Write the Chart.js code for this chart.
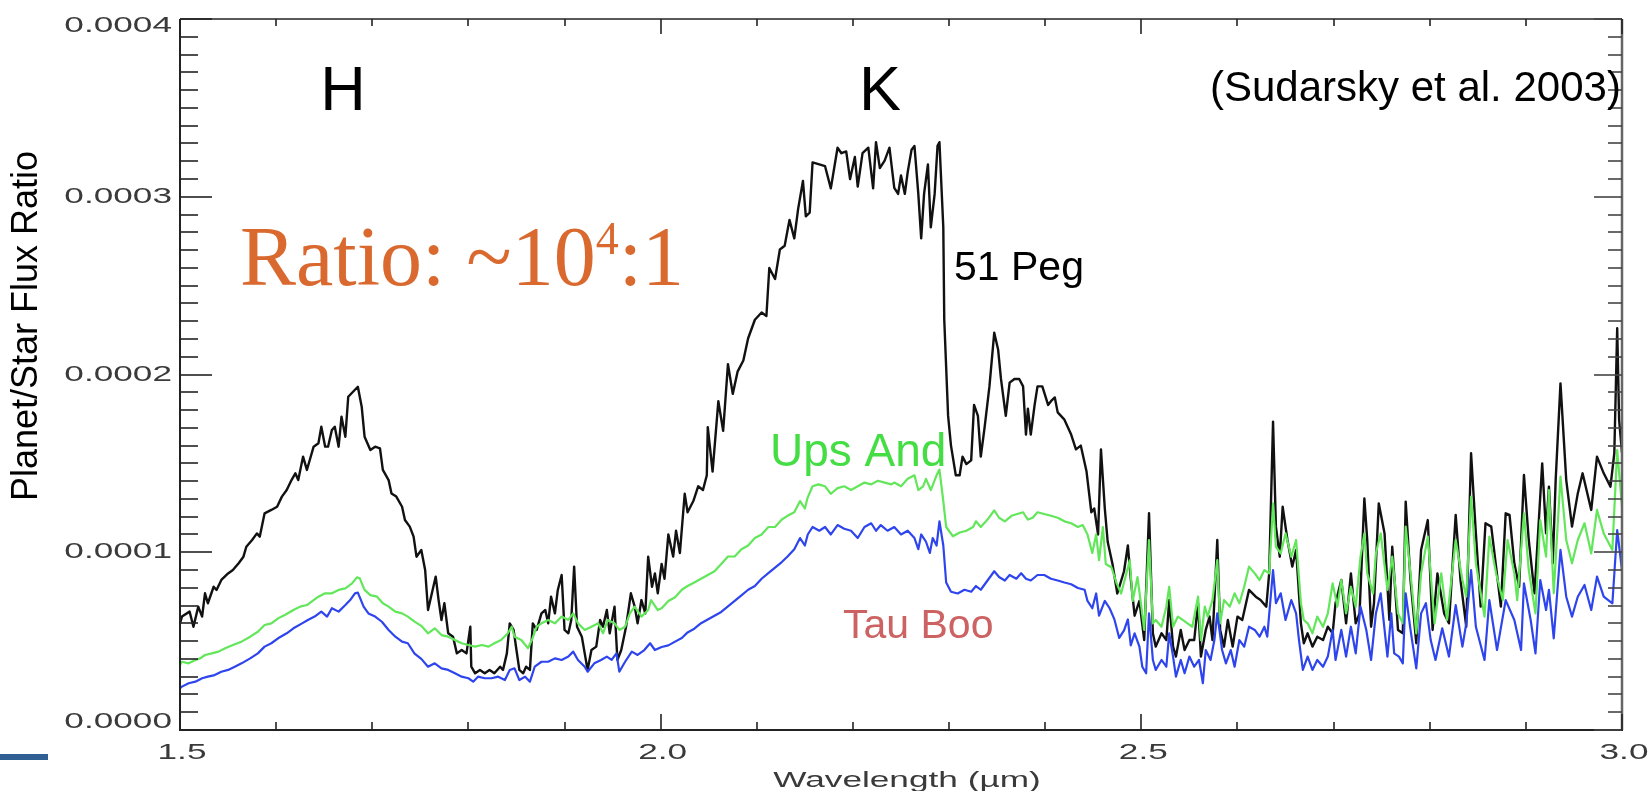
<!DOCTYPE html>
<html>
<head>
<meta charset="utf-8">
<script src="https://cdn.jsdelivr.net/npm/chart.js@4.4.0/dist/chart.umd.min.js"></script>
<style>
  html, body { margin: 0; padding: 0; background: #fff; }
  #wrap { width: 1650px; height: 791px; position: relative; }
</style>
</head>
<body>
<div id="wrap"><canvas id="spectra" width="1650" height="791"></canvas></div>
<script>
// wavelength in micron, planet/star flux ratio in units of 1e-5
const pegWave = [
  1.500, 1.502, 1.510, 1.514, 1.519, 1.523, 1.526, 1.529, 1.535, 1.538,
  1.543, 1.550, 1.555, 1.561, 1.566, 1.569, 1.575, 1.580, 1.583, 1.588,
  1.595, 1.601, 1.606, 1.611, 1.616, 1.620, 1.623, 1.628, 1.632, 1.635,
  1.639, 1.644, 1.647, 1.651, 1.654, 1.658, 1.661, 1.665, 1.668, 1.672,
  1.675, 1.680, 1.685, 1.689, 1.692, 1.698, 1.703, 1.708, 1.711, 1.717,
  1.720, 1.725, 1.731, 1.734, 1.739, 1.743, 1.746, 1.751, 1.755, 1.758,
  1.762, 1.766, 1.769, 1.772, 1.775, 1.779, 1.784, 1.788, 1.793, 1.798,
  1.802, 1.803, 1.807, 1.812, 1.817, 1.822, 1.827, 1.833, 1.836, 1.840,
  1.843, 1.847, 1.850, 1.853, 1.857, 1.860, 1.864, 1.867, 1.871, 1.876,
  1.880, 1.883, 1.886, 1.890, 1.893, 1.897, 1.900, 1.904, 1.907, 1.910,
  1.913, 1.918, 1.921, 1.924, 1.928, 1.933, 1.937, 1.940, 1.944, 1.947,
  1.952, 1.955, 1.959, 1.964, 1.969, 1.973, 1.976, 1.980, 1.984, 1.987,
  1.991, 1.994, 1.997, 2.001, 2.004, 2.008, 2.013, 2.016, 2.020, 2.025,
  2.028, 2.034, 2.039, 2.044, 2.048, 2.049, 2.054, 2.060, 2.065, 2.070,
  2.075, 2.080, 2.086, 2.091, 2.098, 2.105, 2.110, 2.113, 2.119, 2.124,
  2.129, 2.134, 2.139, 2.143, 2.148, 2.151, 2.155, 2.158, 2.165, 2.171,
  2.177, 2.184, 2.188, 2.193, 2.197, 2.202, 2.205, 2.210, 2.216, 2.221,
  2.224, 2.228, 2.233, 2.238, 2.243, 2.247, 2.250, 2.254, 2.257, 2.261,
  2.264, 2.268, 2.271, 2.274, 2.278, 2.281, 2.285, 2.288, 2.290, 2.294,
  2.295, 2.299, 2.302, 2.307, 2.311, 2.314, 2.318, 2.323, 2.326, 2.330,
  2.333, 2.337, 2.342, 2.347, 2.351, 2.354, 2.359, 2.363, 2.368, 2.373,
  2.377, 2.380, 2.382, 2.385, 2.389, 2.392, 2.397, 2.403, 2.406, 2.410,
  2.413, 2.420, 2.427, 2.432, 2.437, 2.443, 2.448, 2.451, 2.455, 2.458,
  2.462, 2.465, 2.470, 2.475, 2.482, 2.486, 2.489, 2.493, 2.498, 2.503,
  2.508, 2.512, 2.515, 2.521, 2.526, 2.529, 2.533, 2.536, 2.541, 2.545,
  2.550, 2.555, 2.559, 2.562, 2.567, 2.571, 2.574, 2.579, 2.582, 2.586,
  2.590, 2.595, 2.600, 2.605, 2.612, 2.619, 2.624, 2.630, 2.633, 2.637,
  2.640, 2.644, 2.647, 2.652, 2.657, 2.661, 2.666, 2.669, 2.673, 2.678,
  2.683, 2.689, 2.694, 2.699, 2.702, 2.708, 2.713, 2.718, 2.723, 2.727,
  2.732, 2.735, 2.739, 2.742, 2.747, 2.753, 2.758, 2.761, 2.767, 2.772,
  2.775, 2.780, 2.786, 2.791, 2.798, 2.803, 2.808, 2.815, 2.820, 2.827,
  2.832, 2.838, 2.843, 2.848, 2.853, 2.858, 2.864, 2.869, 2.874, 2.879,
  2.883, 2.888, 2.893, 2.898, 2.903, 2.909, 2.917, 2.921, 2.924, 2.928,
  2.931, 2.936, 2.942, 2.948, 2.954, 2.959, 2.968, 2.974, 2.981, 2.988,
  2.992, 2.995, 2.997, 3.000
];
const pegFlux = [
  6.00, 6.38, 6.66, 5.81, 6.94, 6.38, 7.69, 7.13, 8.06, 7.88,
  8.44, 8.81, 9.00, 9.38, 9.75, 10.31, 10.69, 11.06, 10.88, 12.19,
  12.38, 12.56, 13.13, 13.50, 14.06, 14.44, 14.06, 15.38, 14.63, 15.19,
  15.94, 16.13, 17.06, 15.94, 15.94, 16.88, 17.06, 15.94, 17.63, 16.50,
  18.75, 19.03, 19.31, 18.19, 16.50, 15.75, 15.94, 15.85, 14.63, 14.06,
  13.31, 13.13, 12.56, 11.81, 11.44, 10.88, 9.75, 10.13, 9.00, 6.75,
  7.69, 8.63, 7.31, 6.19, 7.13, 5.44, 5.25, 4.31, 4.50, 4.31,
  5.81, 3.56, 3.19, 3.38, 3.19, 3.38, 3.19, 3.56, 3.38, 4.31,
  6.00, 5.63, 4.50, 3.38, 3.19, 3.56, 3.38, 6.00, 5.63, 6.56,
  6.75, 6.00, 7.50, 6.56, 7.88, 8.72, 5.63, 5.44, 6.19, 9.19,
  5.81, 5.25, 4.31, 3.38, 4.50, 4.69, 6.19, 5.81, 6.75, 5.44,
  6.94, 3.94, 4.50, 5.81, 7.69, 6.94, 6.00, 7.31, 6.56, 9.75,
  8.06, 8.81, 7.69, 9.34, 8.51, 11.00, 9.76, 11.21, 9.96, 13.29,
  12.25, 12.88, 13.71, 13.50, 14.33, 17.04, 14.54, 18.50, 16.83, 20.58,
  18.91, 20.16, 20.79, 22.04, 23.08, 23.49, 23.29, 25.99, 25.37, 27.03,
  27.24, 28.70, 27.66, 29.32, 30.89, 28.90, 29.11, 31.93, 31.82, 31.72,
  30.47, 32.76, 32.45, 32.55, 30.99, 32.24, 30.57, 32.45, 32.76, 30.47,
  33.07, 31.61, 32.03, 32.76, 30.50, 30.16, 31.20, 30.16, 31.40, 32.65,
  32.86, 30.16, 27.66, 30.16, 31.82, 28.28, 30.16, 32.86, 33.07, 28.28,
  23.08, 17.67, 16.00, 14.33, 14.33, 15.38, 14.96, 15.17, 18.29, 17.67,
  15.38, 17.04, 19.33, 22.35, 21.41, 19.75, 17.67, 19.54, 19.75, 19.75,
  19.33, 16.62, 18.08, 16.62, 18.29, 19.33, 19.33, 18.29, 18.50, 18.71,
  17.87, 17.46, 16.62, 15.79, 16.00, 14.54, 12.25, 12.46, 11.00, 15.79,
  12.46, 10.59, 9.34, 7.68, 8.93, 10.38, 8.51, 6.43, 7.26, 5.06,
  12.19, 5.44, 4.69, 5.44, 5.06, 7.31, 4.69, 4.13, 5.63, 4.50,
  5.06, 5.06, 7.13, 4.13, 5.63, 6.38, 5.06, 10.69, 5.63, 4.69,
  6.19, 4.69, 6.38, 6.19, 7.88, 7.50, 7.31, 6.94, 8.81, 17.35,
  11.44, 9.75, 12.56, 10.69, 9.19, 10.13, 6.00, 4.88, 5.44, 4.69,
  5.25, 5.06, 5.81, 5.44, 7.13, 8.44, 6.00, 8.81, 6.00, 6.56,
  13.03, 10.69, 5.81, 7.13, 12.75, 11.06, 6.19, 10.31, 5.63, 5.44,
  12.85, 8.44, 4.88, 10.13, 11.81, 5.63, 8.81, 6.56, 6.00, 12.10,
  8.44, 5.81, 15.57, 11.06, 6.94, 11.63, 11.44, 9.19, 6.94, 12.19,
  12.10, 9.38, 8.06, 14.35, 10.69, 7.69, 15.00, 11.06, 13.69, 9.38,
  14.06, 19.50, 14.06, 11.44, 13.31, 14.44, 12.38, 15.38, 14.44, 13.69,
  15.57, 22.60, 17.44, 15.60
];

const upsWave = [
  1.500, 1.502, 1.509, 1.516, 1.521, 1.526, 1.533, 1.540, 1.547, 1.555,
  1.564, 1.573, 1.581, 1.588, 1.595, 1.602, 1.609, 1.618, 1.625, 1.632,
  1.639, 1.644, 1.651, 1.658, 1.665, 1.672, 1.679, 1.684, 1.687, 1.692,
  1.698, 1.705, 1.711, 1.717, 1.724, 1.731, 1.737, 1.744, 1.751, 1.758,
  1.765, 1.772, 1.779, 1.786, 1.793, 1.800, 1.807, 1.814, 1.821, 1.827,
  1.834, 1.841, 1.845, 1.848, 1.855, 1.862, 1.866, 1.871, 1.876, 1.883,
  1.890, 1.897, 1.904, 1.909, 1.914, 1.921, 1.928, 1.935, 1.940, 1.945,
  1.952, 1.957, 1.963, 1.968, 1.973, 1.980, 1.987, 1.990, 1.997, 2.001,
  2.008, 2.015, 2.022, 2.028, 2.035, 2.042, 2.049, 2.056, 2.063, 2.070,
  2.077, 2.084, 2.091, 2.098, 2.105, 2.112, 2.119, 2.126, 2.132, 2.139,
  2.145, 2.150, 2.153, 2.158, 2.164, 2.171, 2.177, 2.184, 2.191, 2.198,
  2.205, 2.212, 2.219, 2.226, 2.233, 2.240, 2.243, 2.250, 2.257, 2.264,
  2.268, 2.273, 2.276, 2.281, 2.287, 2.290, 2.294, 2.297, 2.304, 2.311,
  2.318, 2.325, 2.328, 2.333, 2.340, 2.347, 2.352, 2.358, 2.365, 2.371,
  2.377, 2.382, 2.387, 2.392, 2.399, 2.406, 2.413, 2.420, 2.427, 2.434,
  2.439, 2.444, 2.449, 2.453, 2.456, 2.460, 2.463, 2.469, 2.474, 2.479,
  2.484, 2.488, 2.491, 2.496, 2.500, 2.503, 2.508, 2.512, 2.515, 2.521,
  2.526, 2.529, 2.533, 2.538, 2.543, 2.548, 2.553, 2.559, 2.562, 2.566,
  2.569, 2.574, 2.579, 2.582, 2.586, 2.592, 2.597, 2.602, 2.607, 2.612,
  2.618, 2.623, 2.628, 2.633, 2.637, 2.640, 2.645, 2.650, 2.656, 2.661,
  2.666, 2.669, 2.673, 2.678, 2.683, 2.689, 2.694, 2.699, 2.704, 2.708,
  2.713, 2.718, 2.723, 2.728, 2.732, 2.735, 2.741, 2.744, 2.749, 2.756,
  2.761, 2.767, 2.772, 2.775, 2.780, 2.786, 2.791, 2.798, 2.805, 2.812,
  2.818, 2.827, 2.834, 2.838, 2.843, 2.848, 2.857, 2.862, 2.869, 2.876,
  2.881, 2.888, 2.891, 2.898, 2.903, 2.910, 2.915, 2.921, 2.924, 2.929,
  2.936, 2.942, 2.948, 2.954, 2.961, 2.968, 2.974, 2.981, 2.990, 2.995,
  3.000
];
const upsFlux = [
  3.66, 3.84, 3.75, 3.94, 4.03, 4.22, 4.31, 4.41, 4.60, 4.78,
  4.97, 5.25, 5.53, 5.91, 6.00, 6.28, 6.47, 6.75, 6.94, 7.03,
  7.31, 7.50, 7.69, 7.69, 7.88, 7.97, 8.25, 8.59, 8.53, 7.88,
  7.59, 7.50, 7.13, 6.94, 6.66, 6.56, 6.38, 6.10, 5.86, 5.44,
  5.72, 5.34, 5.25, 5.06, 4.88, 4.78, 4.69, 4.78, 4.69, 4.88,
  5.06, 5.44, 5.81, 5.25, 5.06, 4.60, 5.06, 5.81, 6.00, 6.19,
  6.00, 6.38, 6.19, 6.56, 6.00, 5.63, 5.81, 6.00, 5.44, 6.19,
  6.00, 5.63, 5.81, 6.56, 6.94, 6.38, 6.75, 7.31, 6.75, 6.85,
  7.26, 7.47, 7.89, 8.10, 8.30, 8.51, 8.72, 8.93, 9.34, 9.76,
  9.76, 10.17, 10.38, 10.80, 11.00, 11.42, 11.42, 11.84, 12.05, 12.25,
  12.88, 12.46, 13.09, 13.71, 13.82, 13.71, 13.29, 13.61, 13.71, 13.50,
  13.71, 13.92, 13.82, 14.02, 13.92, 13.82, 13.92, 13.71, 14.13, 14.33,
  13.50, 13.71, 14.13, 13.50, 14.33, 14.65, 12.88, 11.42, 10.90, 11.11,
  11.21, 11.42, 11.74, 11.42, 11.84, 12.36, 11.94, 11.74, 12.05, 12.15,
  12.25, 11.84, 11.94, 12.25, 12.15, 12.05, 11.94, 11.74, 11.63, 11.42,
  11.53, 11.00, 9.96, 11.00, 9.55, 11.42, 9.34, 9.14, 8.30, 7.68,
  8.72, 9.55, 7.26, 8.60, 6.94, 5.63, 10.69, 6.00, 6.19, 5.81,
  6.94, 8.06, 5.81, 6.38, 6.19, 6.00, 5.81, 7.50, 5.06, 6.94,
  6.38, 7.31, 9.56, 6.00, 7.31, 6.94, 7.69, 7.13, 8.06, 9.19,
  8.81, 8.44, 9.00, 8.81, 12.75, 10.31, 9.94, 11.06, 9.75, 10.69,
  7.13, 6.19, 6.00, 5.44, 6.38, 5.81, 6.56, 8.25, 6.94, 8.44,
  6.56, 8.06, 6.94, 9.75, 11.06, 8.81, 7.69, 9.94, 11.06, 7.88,
  9.75, 6.56, 6.00, 11.44, 8.81, 5.44, 8.81, 10.88, 6.00, 8.81,
  6.19, 10.69, 8.44, 7.50, 13.13, 9.38, 6.38, 10.88, 8.81, 7.31,
  10.69, 8.81, 7.31, 12.19, 9.00, 6.56, 11.81, 9.75, 13.50, 7.69,
  14.25, 10.69, 9.38, 10.69, 11.63, 9.94, 12.38, 11.06, 10.13, 15.75,
  12.56
];

const tauWave = [
  1.500, 1.502, 1.509, 1.516, 1.523, 1.529, 1.536, 1.543, 1.550, 1.557,
  1.564, 1.573, 1.581, 1.588, 1.595, 1.602, 1.611, 1.618, 1.627, 1.633,
  1.640, 1.647, 1.653, 1.658, 1.665, 1.672, 1.677, 1.682, 1.685, 1.691,
  1.696, 1.703, 1.710, 1.717, 1.724, 1.731, 1.737, 1.744, 1.751, 1.758,
  1.765, 1.772, 1.779, 1.786, 1.793, 1.800, 1.805, 1.810, 1.817, 1.824,
  1.831, 1.838, 1.843, 1.848, 1.853, 1.859, 1.864, 1.869, 1.876, 1.883,
  1.890, 1.897, 1.904, 1.909, 1.914, 1.921, 1.924, 1.931, 1.938, 1.944,
  1.949, 1.954, 1.957, 1.963, 1.970, 1.976, 1.983, 1.989, 1.994, 2.001,
  2.008, 2.015, 2.022, 2.028, 2.035, 2.042, 2.049, 2.056, 2.063, 2.070,
  2.077, 2.084, 2.091, 2.098, 2.105, 2.112, 2.119, 2.126, 2.132, 2.139,
  2.145, 2.150, 2.153, 2.158, 2.165, 2.171, 2.177, 2.184, 2.191, 2.198,
  2.205, 2.212, 2.219, 2.224, 2.229, 2.236, 2.243, 2.250, 2.257, 2.264,
  2.268, 2.271, 2.276, 2.280, 2.283, 2.287, 2.290, 2.294, 2.297, 2.302,
  2.309, 2.316, 2.323, 2.328, 2.333, 2.340, 2.347, 2.352, 2.358, 2.363,
  2.370, 2.375, 2.380, 2.385, 2.392, 2.399, 2.406, 2.413, 2.420, 2.427,
  2.434, 2.441, 2.444, 2.449, 2.453, 2.456, 2.462, 2.467, 2.472, 2.477,
  2.482, 2.486, 2.489, 2.493, 2.498, 2.501, 2.505, 2.508, 2.512, 2.515,
  2.521, 2.526, 2.529, 2.533, 2.536, 2.541, 2.545, 2.550, 2.555, 2.560,
  2.564, 2.567, 2.572, 2.576, 2.579, 2.584, 2.588, 2.593, 2.597, 2.602,
  2.607, 2.612, 2.618, 2.623, 2.628, 2.631, 2.637, 2.640, 2.645, 2.650,
  2.656, 2.661, 2.664, 2.668, 2.673, 2.678, 2.683, 2.689, 2.694, 2.699,
  2.702, 2.708, 2.713, 2.718, 2.723, 2.728, 2.734, 2.739, 2.744, 2.749,
  2.756, 2.760, 2.763, 2.768, 2.772, 2.775, 2.780, 2.786, 2.791, 2.796,
  2.801, 2.806, 2.813, 2.820, 2.827, 2.834, 2.838, 2.843, 2.848, 2.857,
  2.862, 2.870, 2.879, 2.888, 2.895, 2.898, 2.905, 2.910, 2.915, 2.921,
  2.924, 2.929, 2.936, 2.942, 2.948, 2.954, 2.961, 2.968, 2.974, 2.981,
  2.990, 2.995, 3.000
];
const tauFlux = [
  2.35, 2.44, 2.63, 2.72, 2.91, 3.00, 3.09, 3.28, 3.38, 3.56,
  3.75, 4.03, 4.31, 4.69, 4.88, 5.16, 5.44, 5.72, 6.00, 6.19,
  6.38, 6.66, 6.38, 6.85, 6.66, 7.03, 7.31, 7.69, 7.73, 6.94,
  6.56, 6.38, 6.09, 5.63, 5.25, 4.97, 4.88, 4.30, 4.00, 3.56,
  3.75, 3.47, 3.38, 3.19, 3.00, 2.91, 2.72, 3.00, 2.91, 2.91,
  3.00, 2.81, 3.38, 3.47, 2.81, 3.00, 2.72, 3.56, 3.84, 3.84,
  4.03, 3.94, 4.13, 4.41, 3.94, 3.56, 3.28, 3.75, 3.94, 4.13,
  3.94, 4.31, 3.28, 3.84, 4.41, 4.22, 4.50, 4.88, 4.50, 4.67,
  4.76, 4.97, 5.18, 5.49, 5.70, 6.01, 6.22, 6.43, 6.64, 6.95,
  7.26, 7.57, 7.89, 8.10, 8.51, 8.82, 9.14, 9.45, 9.76, 10.17,
  10.80, 10.38, 11.00, 11.42, 11.21, 11.42, 11.00, 11.53, 11.32, 11.21,
  10.80, 11.42, 11.63, 11.21, 11.53, 11.21, 11.42, 11.00, 11.21, 10.80,
  10.17, 11.00, 10.59, 9.96, 10.80, 10.38, 11.74, 10.38, 8.30, 7.78,
  7.68, 7.89, 7.78, 8.10, 7.89, 8.41, 8.93, 8.61, 8.41, 8.72,
  8.51, 8.82, 8.51, 8.41, 8.72, 8.72, 8.51, 8.41, 8.30, 8.20,
  7.99, 7.89, 7.26, 6.85, 7.68, 6.43, 7.26, 6.85, 6.22, 5.18,
  5.60, 6.22, 4.76, 5.44, 4.69, 3.56, 3.19, 6.56, 3.94, 3.38,
  3.94, 3.56, 5.44, 4.13, 3.00, 3.94, 3.19, 4.13, 3.56, 3.94,
  2.63, 4.50, 3.94, 5.06, 6.56, 4.50, 3.75, 4.50, 3.56, 5.06,
  4.69, 5.81, 5.63, 5.25, 5.81, 5.25, 9.00, 7.13, 7.69, 6.19,
  7.31, 6.56, 5.06, 3.38, 4.13, 3.38, 3.94, 3.56, 4.13, 5.63,
  3.94, 5.63, 4.13, 5.81, 4.31, 6.94, 5.63, 3.94, 6.56, 7.69,
  4.13, 6.56, 4.31, 4.13, 3.75, 7.69, 5.63, 3.47, 6.56, 7.13,
  5.06, 3.94, 5.72, 4.13, 7.03, 4.69, 6.00, 9.00, 5.81, 3.94,
  7.31, 4.50, 7.31, 6.19, 4.50, 8.25, 6.19, 4.31, 8.44, 6.75,
  7.88, 5.16, 10.13, 7.50, 6.38, 7.50, 8.16, 6.75, 8.63, 7.50,
  7.13, 11.25, 9.00
];

const yTicks = [0, 0.0001, 0.0002, 0.0003, 0.0004];
const yTickLabels = ["0.0000", "0.0001", "0.0002", "0.0003", "0.0004"];
const xTicks = [1.5, 2.0, 2.5, 3.0];
const xTickLabels = ["1.5", "2.0", "2.5", "3.0"];

function toPoints(wave, flux) {
  const n = Math.min(wave.length, flux.length);
  const pts = [];
  for (let i = 0; i < n; i++) pts.push({ x: wave[i], y: flux[i] * 1e-5 });
  return pts;
}

// axis frame, inward ticks, stretched IDL-style labels and annotations
const overlay = {
  id: "overlay",
  afterDraw(chart) {
    const ctx = chart.ctx;
    const xs = chart.scales.x;
    const ys = chart.scales.y;
    const a = chart.chartArea;

    function seg(x1, y1, x2, y2) {
      ctx.beginPath();
      ctx.moveTo(x1, y1);
      ctx.lineTo(x2, y2);
      ctx.stroke();
    }
    function stretched(text, x, y, align) {
      ctx.save();
      ctx.translate(x, y);
      ctx.scale(1.6, 1);
      ctx.textAlign = align;
      ctx.textBaseline = "middle";
      ctx.fillText(text, 0, 0);
      ctx.restore();
    }

    ctx.save();
    ctx.strokeStyle = "#222";
    ctx.lineWidth = 2;
    seg(a.left, a.top, a.left, a.bottom);
    seg(a.left - 1, a.bottom, a.right + 1, a.bottom);
    ctx.lineWidth = 1.5;
    seg(a.left, a.top, a.right, a.top);
    ctx.strokeStyle = "#666";
    ctx.lineWidth = 2.5;
    seg(a.right, a.top, a.right, a.bottom);

    // y ticks every 1e-5, long ones every 1e-4
    ctx.lineWidth = 1.6;
    for (let i = 0; i <= 40; i++) {
      const y = Math.round(ys.getPixelForValue(i * 1e-5));
      const major = i % 10 === 0;
      ctx.strokeStyle = "#222";
      seg(a.left, y, a.left + (major ? 32 : 18), y);
      ctx.strokeStyle = "#444";
      seg(a.right, y, a.right - (major ? 28 : 14), y);
    }
    // x ticks every 0.1 micron
    ctx.strokeStyle = "#222";
    for (let i = 0; i <= 15; i++) {
      const x = Math.round(xs.getPixelForValue(1.5 + i * 0.1));
      const major = i % 5 === 0;
      seg(x, a.bottom, x, a.bottom - (major ? 16 : 8));
      seg(x, a.top, x, a.top + (major ? 15 : 7));
    }

    // tick labels
    ctx.fillStyle = "#3a3a3a";
    ctx.font = "22px 'Liberation Sans', Arial, sans-serif";
    yTicks.forEach((v, i) => {
      let y = ys.getPixelForValue(v);
      y = Math.min(Math.max(y, a.top + 7), a.bottom - 8);
      stretched(yTickLabels[i], a.left - 8, y, "right");
    });
    xTicks.forEach((v, i) => {
      stretched(xTickLabels[i], xs.getPixelForValue(v) + 2, a.bottom + 23, "center");
    });
    stretched("Wavelength (\u00b5m)", (a.left + a.right) / 2 + 6, a.bottom + 51, "center");

    // y axis title
    ctx.save();
    ctx.translate(27, 326);
    ctx.rotate(-Math.PI / 2);
    ctx.fillStyle = "#000";
    ctx.font = "36px 'Liberation Sans', Arial, sans-serif";
    ctx.textAlign = "center";
    ctx.textBaseline = "middle";
    ctx.fillText("Planet/Star Flux Ratio", 0, 0);
    ctx.restore();

    // band and series annotations
    ctx.textBaseline = "alphabetic";
    ctx.fillStyle = "#000";
    ctx.font = "63px 'Liberation Sans', Arial, sans-serif";
    ctx.textAlign = "center";
    ctx.fillText("H", 343, 110);
    ctx.fillText("K", 880, 110);

    ctx.textAlign = "left";
    ctx.font = "42px 'Liberation Sans', Arial, sans-serif";
    ctx.fillText("(Sudarsky et al. 2003)", 1210, 101);
    ctx.font = "41px 'Liberation Sans', Arial, sans-serif";
    ctx.fillText("51 Peg", 954, 280);

    ctx.fillStyle = "#44DD44";
    ctx.font = "46px 'Liberation Sans', Arial, sans-serif";
    ctx.fillText("Ups And", 770, 466);

    ctx.fillStyle = "#CC6262";
    ctx.font = "41px 'Liberation Sans', Arial, sans-serif";
    ctx.fillText("Tau Boo", 843, 638);

    // contrast note
    ctx.fillStyle = "#D9692E";
    ctx.font = "84px 'Liberation Serif', 'Times New Roman', serif";
    let tx = 240;
    ctx.fillText("Ratio: ~10", tx, 285);
    tx += ctx.measureText("Ratio: ~10").width;
    ctx.font = "46px 'Liberation Serif', 'Times New Roman', serif";
    ctx.fillText("4", tx, 254);
    tx += ctx.measureText("4").width;
    ctx.font = "84px 'Liberation Serif', 'Times New Roman', serif";
    ctx.fillText(":1", tx, 285);

    // slide accent bar
    ctx.fillStyle = "#2F5F93";
    ctx.fillRect(0, 754, 48, 6);
    ctx.restore();
  }
};

new Chart(document.getElementById("spectra"), {
  type: "line",
  data: {
    datasets: [
      {
        label: "51 Peg",
        data: toPoints(pegWave, pegFlux),
        borderColor: "#111111",
        borderWidth: 2.4,
        order: 3,
      },
      {
        label: "Ups And",
        data: toPoints(upsWave, upsFlux),
        borderColor: "#62E65A",
        borderWidth: 2.2,
        order: 2,
      },
      {
        label: "Tau Boo",
        data: toPoints(tauWave, tauFlux),
        borderColor: "#2E45EE",
        borderWidth: 2.2,
        order: 1,
      },
    ],
  },
  options: {
    responsive: false,
    animation: false,
    devicePixelRatio: 1,
    elements: { point: { radius: 0 }, line: { tension: 0, borderJoinStyle: "round" } },
    layout: { padding: { left: 180, top: 19, right: 28, bottom: 61 } },
    plugins: { legend: { display: false }, tooltip: { enabled: false } },
    scales: {
      x: { type: "linear", min: 1.5, max: 3.0, display: false },
      y: { type: "linear", min: 0, max: 0.0004, display: false },
    },
  },
  plugins: [overlay],
});
</script>
</body>
</html>
